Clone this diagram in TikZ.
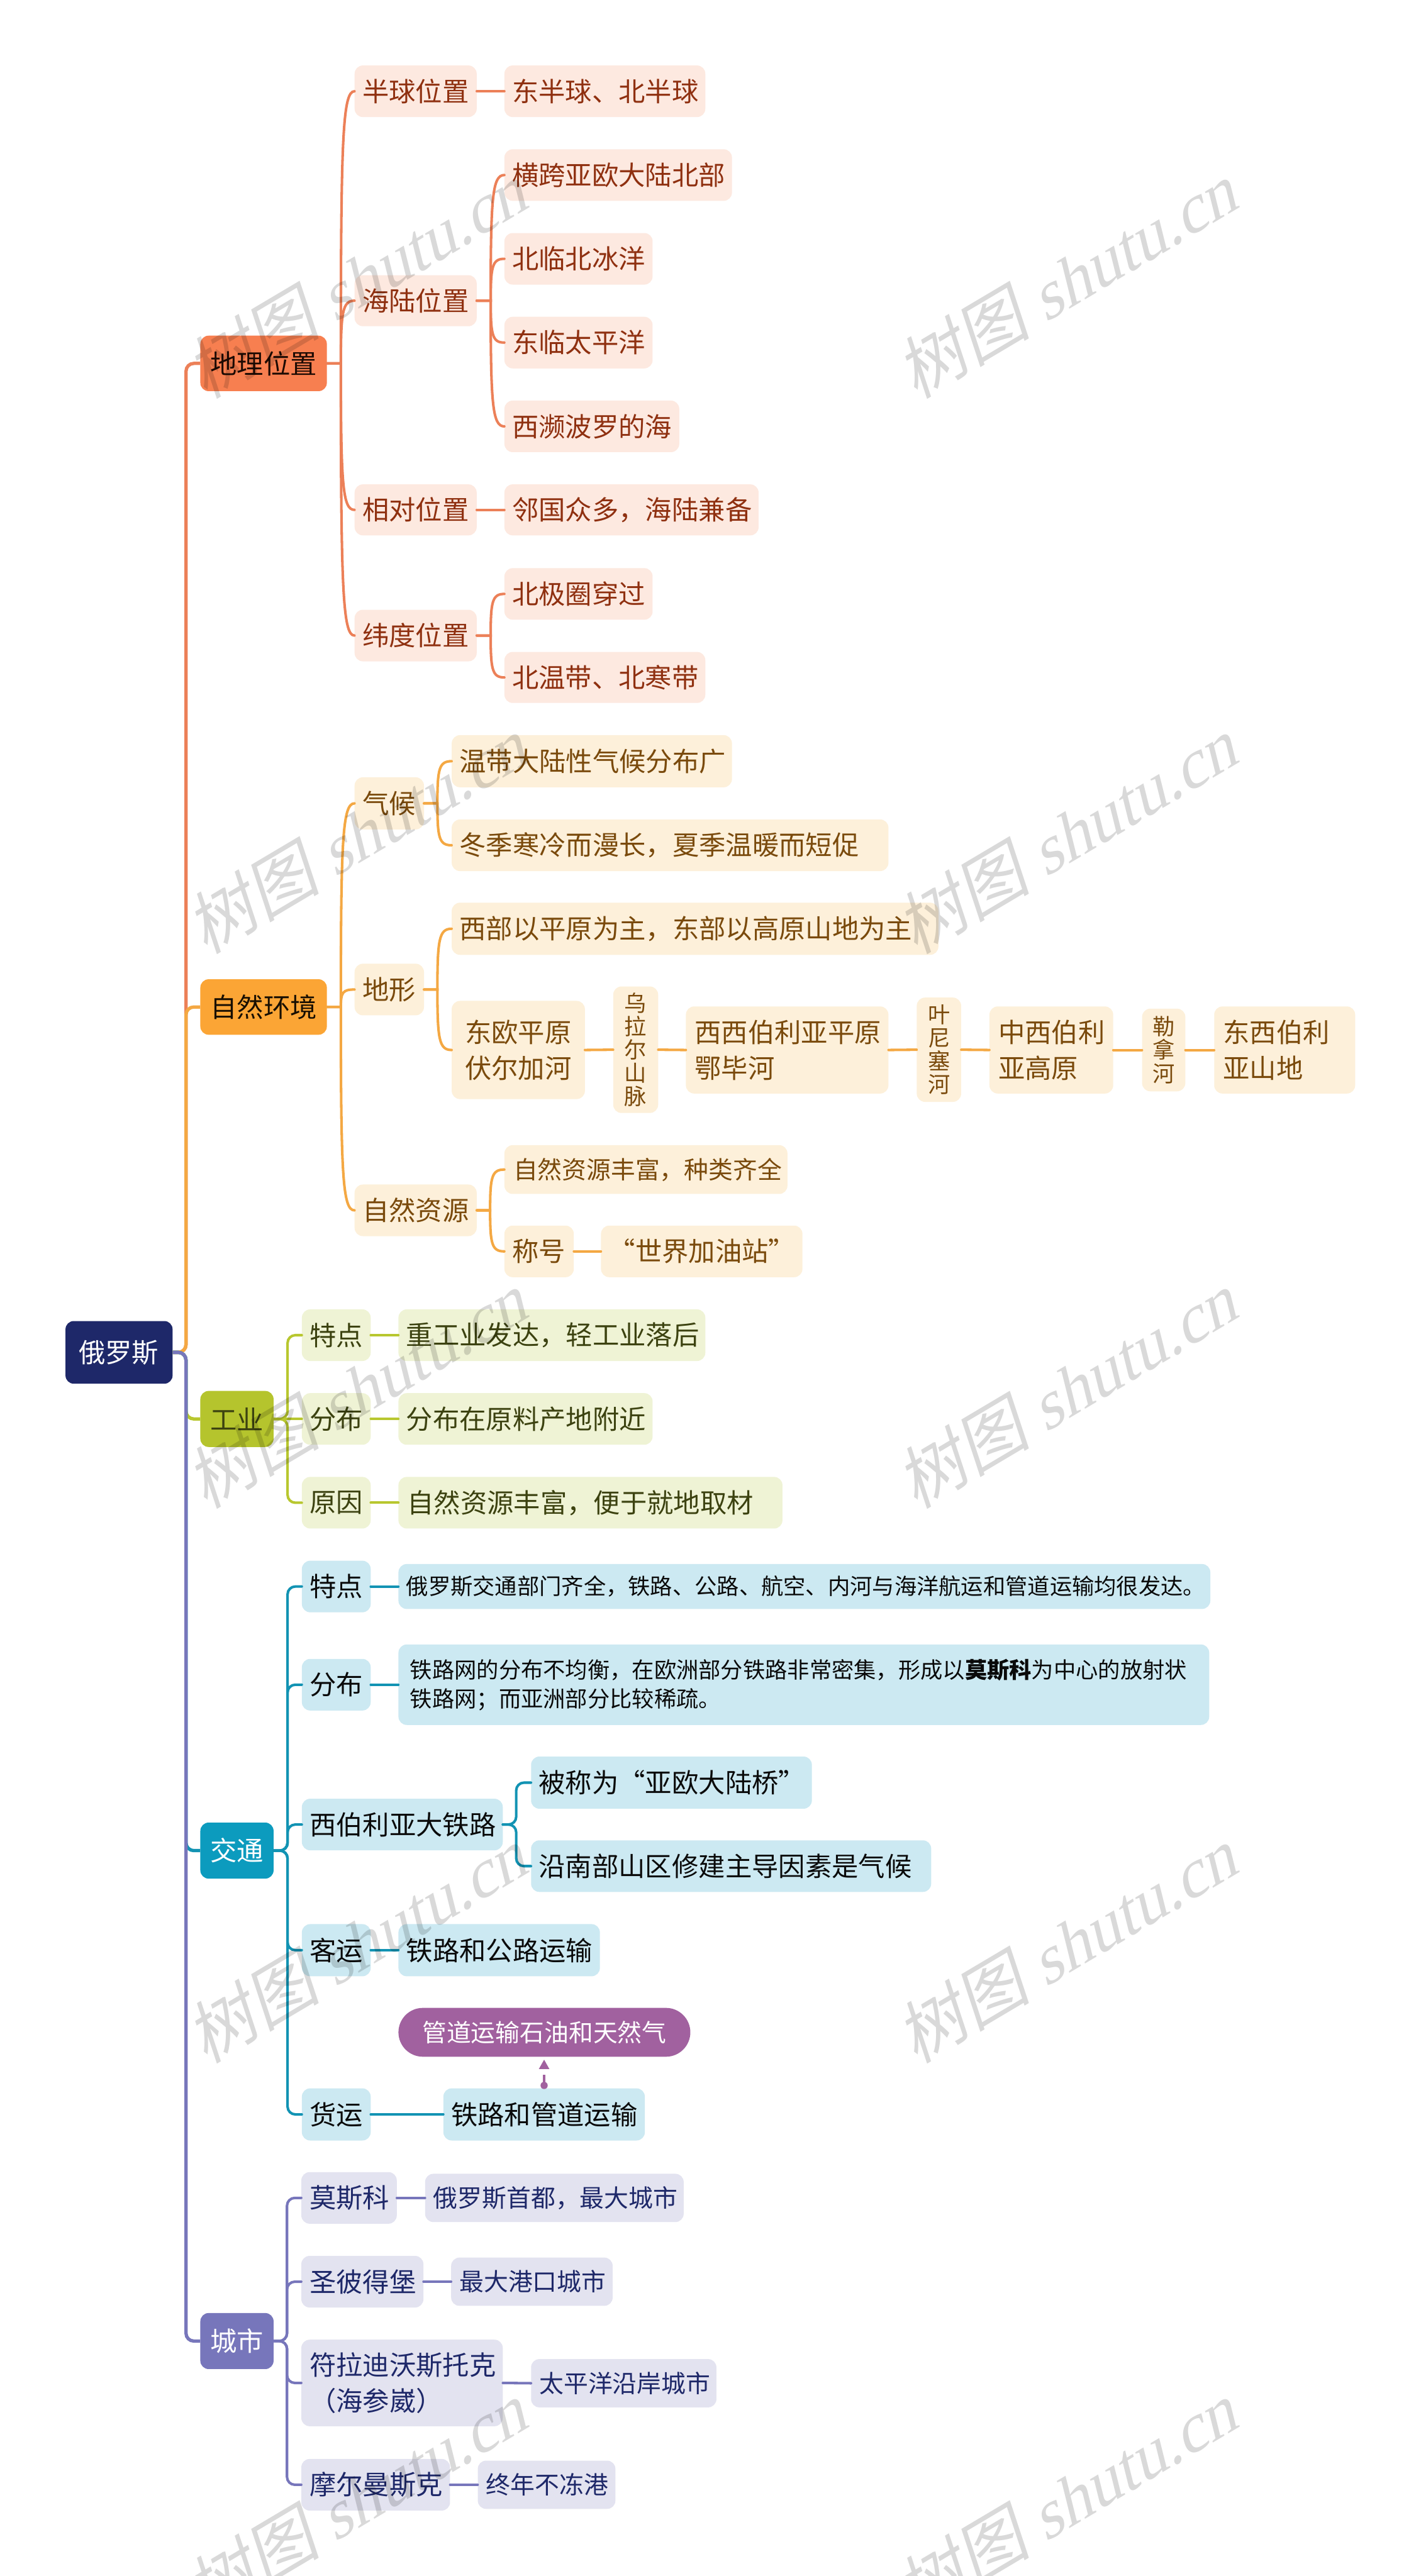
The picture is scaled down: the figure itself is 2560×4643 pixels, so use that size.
\documentclass[tikz,border=0pt]{standalone}
\usepackage{fontspec}
\setmainfont{Noto Sans CJK SC}
\newfontfamily\wmcjk[FakeSlant=0.22]{Noto Sans CJK SC}
\newfontfamily\wmlat[FakeSlant=0.3]{Liberation Serif}
\usetikzlibrary{calc,arrows.meta}
\definecolor{geoF}{HTML}{F77F50}\definecolor{geoC}{HTML}{FDE9E0}\definecolor{geoT}{HTML}{8F3010}\definecolor{geoL}{HTML}{EC8058}
\definecolor{natF}{HTML}{FBA535}\definecolor{natC}{HTML}{FDF0DA}\definecolor{natT}{HTML}{7A4A0C}\definecolor{natL}{HTML}{F4A843}
\definecolor{indF}{HTML}{B5C42D}\definecolor{indC}{HTML}{EFF3D5}\definecolor{indT}{HTML}{3C4210}\definecolor{indL}{HTML}{B8C72F}
\definecolor{traF}{HTML}{0C9BBE}\definecolor{traC}{HTML}{CCE9F2}\definecolor{traT}{HTML}{0A0A0A}\definecolor{traL}{HTML}{1293B3}
\definecolor{citF}{HTML}{7776BB}\definecolor{citC}{HTML}{E3E3F0}\definecolor{citT}{HTML}{1E2869}\definecolor{citL}{HTML}{7776BB}
\definecolor{rootF}{HTML}{1E2869}\definecolor{pillF}{HTML}{A1619F}
\tikzset{
  x=1pt,y=-1pt,
  box/.style={rectangle,rounded corners=15pt,draw=none,inner ysep=0pt,align=left,font=\fontsize{48}{65}\selectfont},
  sz44/.style={font=\fontsize{44}{58}\selectfont},
  sz40/.style={font=\fontsize{40}{52}\selectfont},
  strip/.style={align=center,font=\fontsize{40}{42}\selectfont},
  rootbox/.style={box,fill=rootF,text=white},
  geoH/.style={box,fill=geoF,text=black!80!geoT},
  natH/.style={box,fill=natF,text=black!80!natT},
  indH/.style={box,fill=indF,text=indT},
  traH/.style={box,fill=traF,text=white},
  citH/.style={box,fill=citF,text=white},
  geoB/.style={box,fill=geoC,text=geoT},
  natB/.style={box,fill=natC,text=natT},
  indB/.style={box,fill=indC,text=indT},
  traB/.style={box,fill=traC,text=traT},
  citB/.style={box,fill=citC,text=citT},
  pillbox/.style={box,fill=pillF,text=white,rounded corners=44pt,align=center,sz44},
  wire/.style={line width=4.6pt,line cap=round,draw=#1},
  trunk/.style={line width=6pt,rounded corners=14pt,draw=#1},
  watermark/.style={text=black,text opacity=.15,rotate=30.7,inner sep=0pt}
}
% \bx[left padding]{name}{x1}{y1}{x2}{y2}{styles}{text}
\newcommand{\bx}[8][14]{%
  \pgfmathsetmacro{\bxw}{#5-#3}\pgfmathsetmacro{\bxh}{#6-#4}%
  \pgfmathsetmacro{\bxtw}{\bxw-2*#1}%
  \pgfmathsetmacro{\bxcx}{(#3+#5)/2}\pgfmathsetmacro{\bxcy}{(#4+#6)/2}%
  \node[#7,inner xsep=#1pt,text width=\bxtw pt,minimum height=\bxh pt] (#2) at (\bxcx,\bxcy) {#8};%
}
% straight link
\newcommand{\lk}[3]{\draw[wire=#3] (#1.east) -- (#2.west);}
% curved branch: parent, child, offset to the trunk, colour
\newcommand{\cv}[4]{%
  \coordinate (tA) at ($(#1.east)+(#3,0)$);
  \coordinate (tB) at (tA|-#2.west);
  \draw[wire=#4] (#1.east) -- (tA) .. controls ($(tA)!0.82!(tB)$) and ($(tB)+(3,0)$) .. (#2.west);
}
% elbow branch with rounded corner
\newcommand{\el}[4]{\draw[wire=#4,rounded corners=14pt] (#1.east) -- ++(#3,0) |- (#2.west);}
\newcommand{\rt}[2]{\draw[trunk=#2] (root.east) -- ++(24,0) |- (#1.west);}
\newcommand{\wmk}[2]{\node[watermark] at (#1,#2) {\fontsize{122}{122}\selectfont{\wmcjk 树图} {\wmlat shutu.cn}};}
\begin{document}
\begin{tikzpicture}
\useasboundingbox (0,0) rectangle (2560,4643);
\fill[white] (0,0) rectangle (2560,4643);
\clip (0,0) rectangle (2560,4643);

\bx[24]{root}{118}{2381}{311}{2494}{rootbox}{俄罗斯}

% geography
\bx[18]{geo}{361}{605}{589}{705}{geoH}{地理位置}
\bx{g1}{639}{118}{859}{211}{geoB}{半球位置}
\bx{g11}{909}{118}{1271}{211}{geoB}{东半球、北半球}
\bx{g2}{639}{496}{859}{588}{geoB}{海陆位置}
\bx{g21}{909}{269}{1319}{362}{geoB}{横跨亚欧大陆北部}
\bx{g22}{909}{420}{1176}{513}{geoB}{北临北冰洋}
\bx{g23}{909}{571}{1176}{664}{geoB}{东临太平洋}
\bx{g24}{909}{722}{1224}{815}{geoB}{西濒波罗的海}
\bx{g3}{639}{873}{859}{965}{geoB}{相对位置}
\bx{g31}{909}{873}{1367}{965}{geoB}{邻国众多，海陆兼备}
\bx{g4}{639}{1099}{859}{1192}{geoB}{纬度位置}
\bx{g41}{909}{1024}{1176}{1117}{geoB}{北极圈穿过}
\bx{g42}{909}{1175}{1271}{1267}{geoB}{北温带、北寒带}

% nature
\bx[18]{nat}{361}{1765}{589}{1865}{natH}{自然环境}
\bx{n1}{639}{1401}{764}{1495}{natB}{气候}
\bx{n11}{814}{1325}{1319}{1419}{natB}{温带大陆性气候分布广}
\bx{n12}{814}{1477}{1601}{1570}{natB}{冬季寒冷而漫长，夏季温暖而短促}
\bx{n2}{639}{1737}{764}{1830}{natB}{地形}
\bx{n21}{814}{1627}{1691}{1721}{natB}{西部以平原为主，东部以高原山地为主}
\bx[24]{n22}{814}{1804}{1054}{1981}{natB}{东欧平原\\伏尔加河}
\bx{n23}{1105}{1778}{1186}{2006}{natB,strip}{乌\\拉\\尔\\山\\脉}
\bx[16]{n24}{1236}{1814}{1601}{1971}{natB}{西西伯利亚平原\\鄂毕河}
\bx{n25}{1652}{1798}{1732}{1986}{natB,strip}{叶\\尼\\塞\\河}
\bx[16]{n26}{1783}{1814}{2006}{1971}{natB}{中西伯利\\亚高原}
\bx{n27}{2058}{1818}{2136}{1967}{natB,strip}{勒\\拿\\河}
\bx[16]{n28}{2188}{1814}{2442}{1971}{natB}{东西伯利\\亚山地}
\bx{n3}{639}{2135}{859}{2228}{natB}{自然资源}
\bx[16]{n31}{909}{2064}{1419}{2152}{natB,sz44}{自然资源丰富，种类齐全}
\bx{n32}{909}{2209}{1034}{2302}{natB}{称号}
\bx{n33}{1083}{2209}{1446}{2302}{natB}{“世界加油站”}

% industry
\bx[18]{ind}{361}{2507}{493}{2608}{indH}{工业}
\bx{i1}{544}{2360}{668}{2453}{indB}{特点}
\bx{i11}{718}{2360}{1271}{2453}{indB}{重工业发达，轻工业落后}
\bx{i2}{544}{2511}{668}{2604}{indB}{分布}
\bx{i21}{718}{2511}{1176}{2604}{indB}{分布在原料产地附近}
\bx{i3}{544}{2662}{668}{2755}{indB}{原因}
\bx[16]{i31}{718}{2662}{1410}{2755}{indB}{自然资源丰富，便于就地取材}

% transport
\bx[18]{tra}{361}{3285}{493}{3386}{traH}{交通}
\bx{t1}{544}{2813}{668}{2906}{traB}{特点}
\bx{t11}{718}{2819}{2181}{2900}{traB,sz40}{俄罗斯交通部门齐全，铁路、公路、航空、内河与海洋航运和管道运输均很发达。}
\bx{t2}{544}{2990}{668}{3083}{traB}{分布}
\bx[21]{t21}{718}{2964}{2179}{3109}{traB,sz40}{铁路网的分布不均衡，在欧洲部分铁路非常密集，形成以{\bfseries 莫斯科}为中心的放射状\\铁路网；而亚洲部分比较稀疏。}
\bx{t3}{544}{3242}{906}{3335}{traB}{西伯利亚大铁路}
\bx{t31}{957}{3166}{1463}{3260}{traB}{被称为“亚欧大陆桥”}
\bx{t32}{957}{3317}{1678}{3410}{traB}{沿南部山区修建主导因素是气候}
\bx{t4}{544}{3468}{668}{3562}{traB}{客运}
\bx{t41}{718}{3468}{1081}{3562}{traB}{铁路和公路运输}
\bx{t5}{544}{3764}{668}{3858}{traB}{货运}
\bx{t51}{799}{3764}{1162}{3858}{traB}{铁路和管道运输}
\bx{pill}{718}{3619}{1244}{3707}{pillbox}{管道运输石油和天然气}

% cities
\bx[18]{cit}{361}{4169}{493}{4270}{citH}{城市}
\bx[15]{c1}{543}{3915}{715}{4008}{citB}{莫斯科}
\bx[15]{c11}{766}{3918}{1232}{4005}{citB,sz44}{俄罗斯首都，最大城市}
\bx[15]{c2}{543}{4066}{763}{4159}{citB}{圣彼得堡}
\bx[15]{c21}{813}{4069}{1104}{4156}{citB,sz44}{最大港口城市}
\bx[15]{c3}{543}{4217}{906}{4373}{citB}{符拉迪沃斯托克\\（海参崴）}
\bx[15]{c31}{957}{4252}{1291}{4339}{citB,sz44}{太平洋沿岸城市}
\bx[15]{c4}{543}{4432}{811}{4525}{citB}{摩尔曼斯克}
\bx[15]{c41}{861}{4435}{1109}{4522}{citB,sz44}{终年不冻港}

% trunks from the root
\rt{geo}{geoL}
\rt{nat}{natL}
\rt{ind}{indL}
\rt{tra}{traL}
\rt{cit}{citL}

% geography links
\cv{geo}{g1}{25}{geoL}
\cv{geo}{g2}{25}{geoL}
\cv{geo}{g3}{25}{geoL}
\cv{geo}{g4}{25}{geoL}
\lk{g1}{g11}{geoL}
\cv{g2}{g21}{25}{geoL}
\cv{g2}{g22}{25}{geoL}
\cv{g2}{g23}{25}{geoL}
\cv{g2}{g24}{25}{geoL}
\lk{g3}{g31}{geoL}
\cv{g4}{g41}{25}{geoL}
\cv{g4}{g42}{25}{geoL}

% nature links
\cv{nat}{n1}{25}{natL}
\cv{nat}{n2}{25}{natL}
\cv{nat}{n3}{25}{natL}
\cv{n1}{n11}{24}{natL}
\cv{n1}{n12}{24}{natL}
\cv{n2}{n21}{24}{natL}
\cv{n2}{n22}{24}{natL}
\draw[wire=natL] (n22.east) -- (n23.west);
\draw[wire=natL] (n23.east) -- (n24.west);
\draw[wire=natL] (n24.east) -- (n25.west);
\draw[wire=natL] (n25.east) -- (n26.west);
\draw[wire=natL] (n26.east) -- (n27.west);
\draw[wire=natL] (n27.east) -- (n28.west);
\cv{n3}{n31}{24}{natL}
\cv{n3}{n32}{24}{natL}
\lk{n32}{n33}{natL}

% industry links
\el{ind}{i1}{25}{indL}
\lk{ind}{i2}{indL}
\el{ind}{i3}{25}{indL}
\lk{i1}{i11}{indL}
\lk{i2}{i21}{indL}
\lk{i3}{i31}{indL}

% transport links
\el{tra}{t1}{25}{traL}
\el{tra}{t2}{25}{traL}
\el{tra}{t3}{25}{traL}
\el{tra}{t4}{25}{traL}
\el{tra}{t5}{25}{traL}
\lk{t1}{t11}{traL}
\lk{t2}{t21}{traL}
\el{t3}{t31}{24}{traL}
\el{t3}{t32}{24}{traL}
\lk{t4}{t41}{traL}
\lk{t5}{t51}{traL}
\coordinate (dotpt) at ($(t51.north)+(0,-5)$);
\fill[pillF] (dotpt) circle (6.5pt);
\draw[line width=3.5pt,draw=pillF,dash pattern=on 24pt off 10pt,shorten >=5pt,
  -{Triangle[length=17pt,width=18pt,fill=pillF]}] (t51.north) -- (t51.north|-pill.south);

% city links
\el{cit}{c1}{24}{citL}
\el{cit}{c2}{24}{citL}
\el{cit}{c3}{24}{citL}
\el{cit}{c4}{24}{citL}
\lk{c1}{c11}{citL}
\lk{c2}{c21}{citL}
\lk{c3}{c31}{citL}
\lk{c4}{c41}{citL}

% watermark
\wmk{640}{507}\wmk{1920}{507}
\wmk{640}{1507}\wmk{1920}{1507}
\wmk{640}{2507}\wmk{1920}{2507}
\wmk{640}{3507}\wmk{1920}{3507}
\wmk{640}{4507}\wmk{1920}{4507}
\end{tikzpicture}
\end{document}
